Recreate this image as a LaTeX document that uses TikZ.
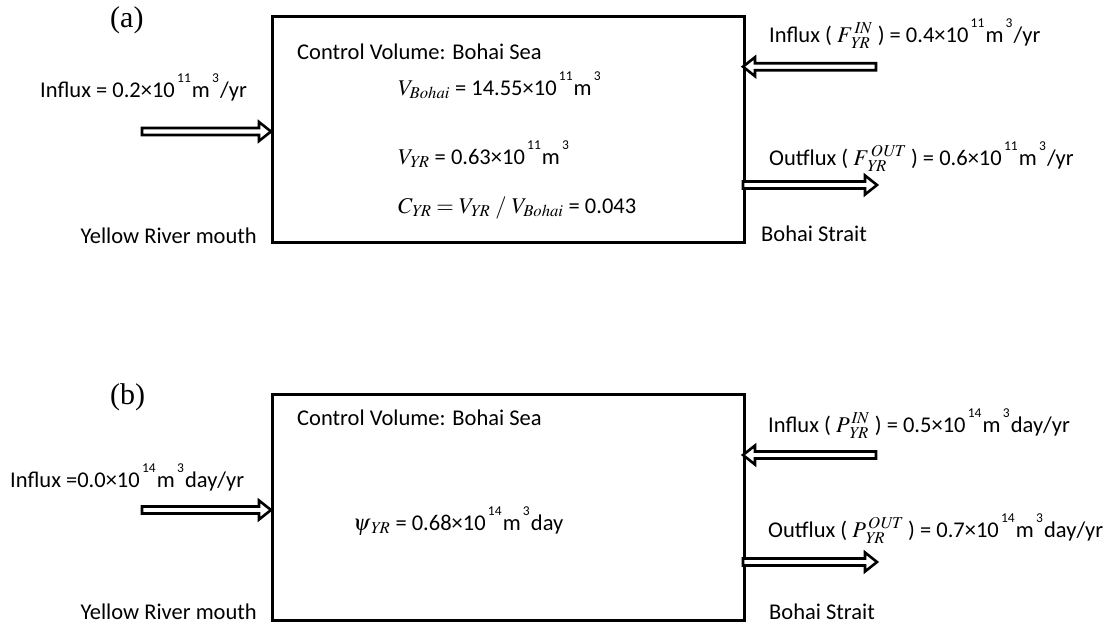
\documentclass[tikz,border=0pt]{standalone}
\usepackage{mathptmx}
\usepackage{fontspec}
\setmainfont{Carlito}
\newfontfamily\tms{Liberation Serif}
\newcommand\upx[1]{\hspace{0.1em}\raisebox{15pt}{\fontsize{13.5}{13}\selectfont #1}\hspace{0.05em}}
\tikzset{
  cv/.style={draw, line width=3pt},
  lbl/.style={font=\fontsize{22.5}{24}\selectfont, inner sep=0pt, anchor=base west},
  tag/.style={font=\tms\fontsize{30}{32}\selectfont, inner sep=0pt, anchor=base west},
  harrow/.style={draw, fill=white, line width=2.6pt, line join=miter},
}
% right-pointing hollow arrow: tail x, tip x, y
\newcommand\rarr[3]{\draw[harrow] (#1,#3-3.5) -- (#2-12,#3-3.5) -- (#2-12,#3-9.5) -- (#2,#3) -- (#2-12,#3+9.5) -- (#2-12,#3+3.5) -- (#1,#3+3.5) -- cycle;}
\newcommand\larr[3]{\draw[harrow] (#1,#3-3.5) -- (#2+12,#3-3.5) -- (#2+12,#3-9.5) -- (#2,#3) -- (#2+12,#3+9.5) -- (#2+12,#3+3.5) -- (#1,#3+3.5) -- cycle;}
\begin{document}
\begin{tikzpicture}[x=1pt,y=-1pt]
\useasboundingbox (0,0) rectangle (1104,627);
% ---------- (a)
\node[tag] (ta) at (110,27) {(a)};
\node[cv, minimum width=472pt, minimum height=226pt, inner sep=0pt, anchor=north west] (boxa) at (271,15) {};
\node[lbl] (cva) at (297,59) {Control Volume: Bohai Sea};
\node[lbl] (vb) at (398,95) {$V_{\mathit{Bohai}}$ = 14.55×10\upx{11}m\upx{3}};
\node[lbl] (vyr) at (398,164) {$V_{\mathit{YR}}$ = 0.63×10\upx{11}m\upx{3}};
\node[lbl] (cyr) at (398,213) {$C_{\mathit{YR}} = V_{\mathit{YR}}\ /\ V_{\mathit{Bohai}}$ = 0.043};
\node[lbl] (ina) at (40,97) {Influx = 0.2×10\upx{11}m\upx{3}/yr};
\node[lbl, anchor=base east] (yra) at (257,243) {Yellow River mouth};
\node[lbl] (bsa) at (761,241) {Bohai Strait};
\node[lbl] (rina) at (769,42) {Influx ( $F_{\,\mathit{YR}}^{\,\mathit{IN}}$ ) = 0.4×10\upx{11}m\upx{3}/yr};
\node[lbl] (outa) at (769,165) {Outflux ( $F_{\,\mathit{YR}}^{\,\mathit{OUT}}$ ) = 0.6×10\upx{11}m\upx{3}/yr};
\rarr{142}{271}{131.5}
\larr{876}{743}{66.7}
\rarr{743}{877}{185}
% ---------- (b)
\node[tag] (tb) at (110,404) {(b)};
\node[cv, minimum width=472pt, minimum height=226pt, inner sep=0pt, anchor=north west] (boxb) at (271,393) {};
\node[lbl] (cvb) at (297,425) {Control Volume: Bohai Sea};
\node[lbl] (psi) at (353,530) {$\psi_{\,\mathit{YR}}$ = 0.68×10\upx{14}m\upx{3}day};
\node[lbl] (inb) at (10,487) {Influx =0.0×10\upx{14}m\upx{3}day/yr};
\node[lbl, anchor=base east] (yrb) at (257,619) {Yellow River mouth};
\node[lbl] (bsb) at (769,619) {Bohai Strait};
\node[lbl] (rinb) at (768,432) {Influx ( $P_{\,\mathit{YR}}^{\,\mathit{IN}}$ ) = 0.5×10\upx{14}m\upx{3}day/yr};
\node[lbl] (outb) at (768,537) {Outflux ( $P_{\,\mathit{YR}}^{\,\mathit{OUT}}$ ) = 0.7×10\upx{14}m\upx{3}day/yr};
\rarr{142}{271}{510}
\larr{876}{743}{455}
\rarr{743}{877}{562}
\end{tikzpicture}
\end{document}
